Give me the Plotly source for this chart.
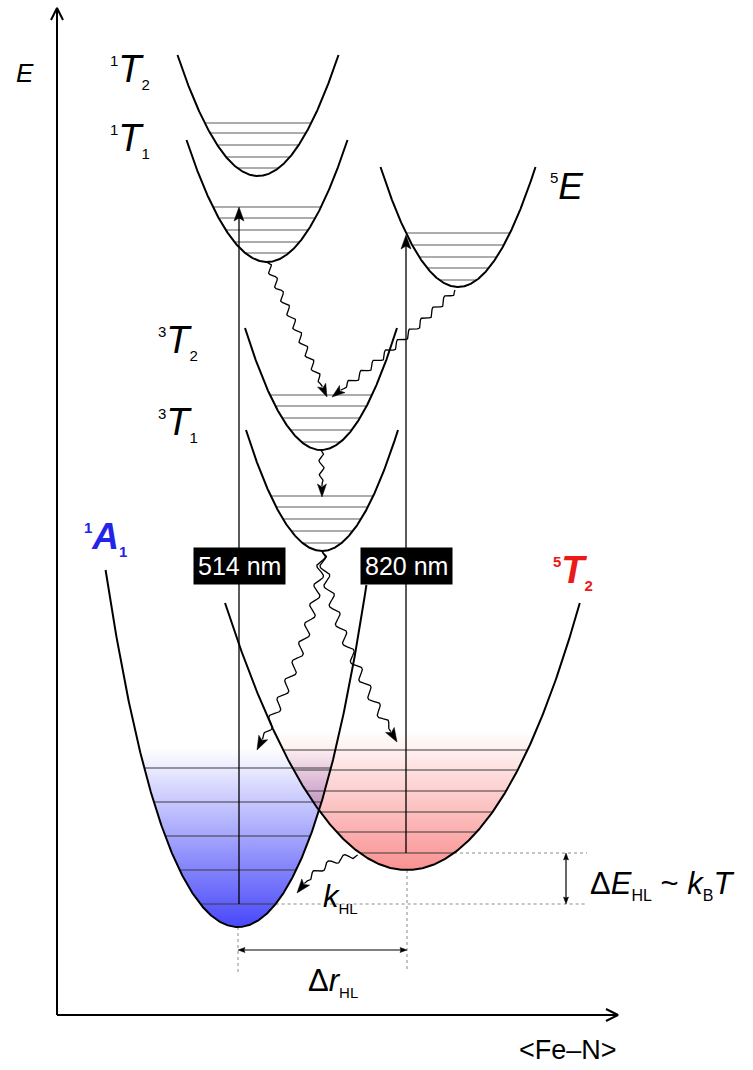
import numpy as np
import plotly.graph_objects as go

W, H = 753, 1070

# ---------------- data: potential wells (x = Fe-N distance units, E = energy units) -------------
state_names = ["1T2", "1T1", "5E", "3T2", "3T1", "1A1", "5T2"]
state_r0 = [258, 267, 458, 321, 322, 238, 407]
state_E0 = [894, 808, 783, 620, 519, 143, 200]
state_k = [0.01867, 0.01883, 0.01998, 0.02112, 0.02095, 0.0158, 0.0076]
state_q_left = [0, 0, 0, 0, 0, 2.6e-7, 1.4e-8]
state_q_right = [0, 0, 0, 0, 0, 3.0e-7, 4.5e-8]
state_top_left = [1015, 930, 903, 742, 640, 500, 467]
state_top_right = [1015, 930, 903, 742, 640, 485, 467]
state_levels = [
    [947, 937, 925, 913, 902],
    [863, 852, 840, 828, 817],
    [837, 825, 813, 802, 790],
    [675, 664, 652, 640, 628],
    [574, 563, 551, 539, 527],
    [302, 268, 234, 200, 166],
    [320, 300, 279, 258, 238, 217],
]
fill_top = {"1A1": 322, "5T2": 340}
excitation_nm = ["514 nm", "820 nm"]

S = {n: i for i, n in enumerate(state_names)}

fig = go.Figure()


def add_line(xs, ys, color="black", width=2, dash=None):
    fig.add_trace(go.Scatter(x=list(xs), y=list(ys), mode="lines",
                             line=dict(color=color, width=width, dash=dash),
                             hoverinfo="skip", showlegend=False))


def add_poly(xs, ys, color):
    fig.add_trace(go.Scatter(x=list(xs), y=list(ys), mode="lines", fill="toself",
                             fillcolor=color, line=dict(color=color, width=0.5),
                             hoverinfo="skip", showlegend=False))


def well_E(i, x):
    u = np.asarray(x, float) - state_r0[i]
    q = np.where(u < 0, state_q_left[i], state_q_right[i])
    return state_E0[i] + state_k[i] * u ** 2 + q * u ** 4


def half_width(i, E, side):
    dE = max(E - state_E0[i], 0)
    k = state_k[i]
    q = state_q_left[i] if side < 0 else state_q_right[i]
    if q == 0:
        return np.sqrt(dE / k)
    return np.sqrt((-k + np.sqrt(k * k + 4 * q * dE)) / (2 * q))


def head_pts(tip, d, L=13, Wd=4.5, notch=3):
    tip = np.asarray(tip, float)
    d = np.asarray(d, float)
    d = d / np.hypot(*d)
    nrm = np.array([-d[1], d[0]])
    base = tip - d * L
    pts = [tip, base + nrm * Wd, tip - d * (L - notch), base - nrm * Wd, tip]
    return [p[0] for p in pts], [p[1] for p in pts]


def arrow_head(tip, d, L=13, Wd=4.5, notch=3):
    xs, ys = head_pts(tip, d, L, Wd, notch)
    add_poly(xs, ys, "black")


# ---------------- gradient fills of the two ground wells ----------------
i1, i5 = S["1A1"], S["5T2"]


def blue_col(E):
    t = float(np.clip((E - state_E0[i1]) / (fill_top["1A1"] - state_E0[i1]), 0, 1))
    return np.array([72 + 183 * t, 72 + 183 * t, 250 + 5 * t])


def red_col(E):
    t = float(np.clip((E - state_E0[i5]) / (fill_top["5T2"] - state_E0[i5]), 0, 1))
    return np.array([250 + 5 * t, 145 + 110 * t, 145 + 110 * t])


def rgb(c):
    return "rgb(%d,%d,%d)" % tuple(np.clip(np.round(c), 0, 255))


def well_region(i, Et):
    xl = state_r0[i] - half_width(i, min(Et, state_top_left[i]), -1)
    xr = state_r0[i] + half_width(i, min(Et, state_top_right[i]), 1)
    xx = np.linspace(xl, xr, 300)
    yy = np.minimum(well_E(i, xx), Et)
    return list(xx) + [xx[0]], list(yy) + [yy[0]]


for i, fn, name in [(i1, blue_col, "1A1"), (i5, red_col, "5T2")]:
    Et = fill_top[name]
    xs, ys = well_region(i, Et)
    Es = np.linspace(state_E0[i], Et, 11)
    cs = [[j / 10, rgb(fn(E))] for j, E in enumerate(Es)]
    fig.add_trace(go.Scatter(x=xs, y=ys, mode="lines", fill="toself",
                             line=dict(width=0, color="rgba(0,0,0,0)"),
                             fillgradient=dict(type="vertical", colorscale=cs,
                                               start=state_E0[i], stop=Et),
                             hoverinfo="skip", showlegend=False))

# overlap region (colours multiply -> violet)
Eo = fill_top["1A1"]
xx = np.linspace(150, 400, 1200)
low = np.maximum(well_E(i1, xx), well_E(i5, xx))
m = low <= Eo
xo, lo = xx[m], low[m]
Emin_o = lo.min()
Es = np.linspace(Emin_o, Eo, 11)
cs = [[j / 10, rgb(blue_col(E) * red_col(E) / 255)] for j, E in enumerate(Es)]
fig.add_trace(go.Scatter(x=list(xo) + [xo[0]], y=list(lo) + [lo[0]], mode="lines", fill="toself",
                         line=dict(width=0, color="rgba(0,0,0,0)"),
                         fillgradient=dict(type="vertical", colorscale=cs, start=Emin_o, stop=Eo),
                         hoverinfo="skip", showlegend=False))

# ---------------- vibrational levels ----------------
for i, name in enumerate(state_names):
    col = "#3a3a3a" if name in ("1A1", "5T2") else "#5a5a5a"
    xs, ys = [], []
    for L in state_levels[i]:
        xs += [state_r0[i] - half_width(i, L, -1), state_r0[i] + half_width(i, L, 1), None]
        ys += [L, L, None]
    add_line(xs, ys, color=col, width=1.1)

# ---------------- dotted guide lines ----------------
low1 = state_levels[i1][-1]
low5 = state_levels[i5][-1]
add_line([state_r0[i5] + half_width(i5, low5, 1), 587], [low5, low5], color="#8a8a8a", width=1, dash="dot")
add_line([state_r0[i1] + half_width(i1, low1, 1), 587], [low1, low1], color="#8a8a8a", width=1, dash="dot")
add_line([state_r0[i1], state_r0[i1]], [state_E0[i1], 98], color="#8a8a8a", width=1, dash="dot")
add_line([state_r0[i5], state_r0[i5]], [state_E0[i5], 98], color="#8a8a8a", width=1, dash="dot")

# double arrows
add_line([566, 566], [low5 - 5, low1 + 5], width=1.2)
arrow_head((566, low5), (0, 1), L=7, Wd=2.5, notch=1)
arrow_head((566, low1), (0, -1), L=7, Wd=2.5, notch=1)
ya = 120
add_line([state_r0[i1] + 5, state_r0[i5] - 5], [ya, ya], width=1.2)
arrow_head((state_r0[i1], ya), (-1, 0), L=7, Wd=2.5, notch=1)
arrow_head((state_r0[i5], ya), (1, 0), L=7, Wd=2.5, notch=1)

# ---------------- well curves ----------------
for i, name in enumerate(state_names):
    xl = state_r0[i] - half_width(i, state_top_left[i], -1)
    xr = state_r0[i] + half_width(i, state_top_right[i], 1)
    xx = np.linspace(xl, xr, 400)
    add_line(xx, well_E(i, xx), width=2)

# ---------------- vertical excitation arrows ----------------
iT1, i5E = S["1T1"], S["5E"]
x514 = state_r0[i1] + 1
tip514 = state_levels[iT1][0]
add_line([x514, x514], [low1, tip514 - 10], width=1.3)
arrow_head((x514, tip514), (0, 1), L=14, Wd=5, notch=3)
x820 = state_r0[i5] - 1
tip820 = state_levels[i5E][0] - 2
add_line([x820, x820], [low5, tip820 - 10], width=1.3)
arrow_head((x820, tip820), (0, 1), L=14, Wd=5, notch=3)


# ---------------- wavy (non-radiative) arrows ----------------
def wavy(p0, c, tip, amp, wl, L=13, Wd=4.5):
    p0, c, tip = (np.array(p, float) for p in (p0, c, tip))
    t = np.linspace(0, 1, 600)[:, None]
    pts = (1 - t) ** 2 * p0 + 2 * (1 - t) * t * c + t ** 2 * tip
    seg = np.hypot(*np.diff(pts, axis=0).T)
    s = np.concatenate([[0], np.cumsum(seg)])
    total = s[-1]
    mk = s <= total - L + 2
    tang = np.gradient(pts, axis=0)
    tang /= np.hypot(tang[:, 0], tang[:, 1])[:, None]
    nrm = np.stack([-tang[:, 1], tang[:, 0]], axis=1)
    env = np.clip((total - L - s) / (wl * 0.5), 0, 1) * np.clip(s / (wl * 0.25), 0, 1)
    off = amp * np.sin(2 * np.pi * s / wl) * env
    w = pts + nrm * off[:, None]
    add_line(w[mk, 0], w[mk, 1], width=1.3)
    k = np.searchsorted(s, total - L)
    arrow_head(tip, tip - pts[k], L=L, Wd=Wd)


iT2, i3T1 = S["3T2"], S["3T1"]
top3T2 = state_levels[iT2][0]
top3T1 = state_levels[i3T1][0]
wavy((state_r0[iT1], state_E0[iT1]), (292, 750), (state_r0[iT2] + 6, top3T2 - 2), 3, 15)
wavy((state_r0[i5E] - 3, state_E0[i5E] - 3), (400, 725), (state_r0[iT2] + 11, top3T2 - 2), 3, 16)
wavy((state_r0[iT2], state_E0[iT2]), (322, 598), (state_r0[i3T1], top3T1 - 1), 2.5, 14)
wavy((state_r0[i3T1], state_E0[i3T1]), (318, 440), (257, 320), 4, 20, L=14, Wd=5)
wavy((state_r0[i3T1], state_E0[i3T1]), (330, 440), (397, 328), 4, 20, L=14, Wd=5)
Ek = 215
wavy((state_r0[i5] - half_width(i5, Ek, -1) - 5, Ek), (320, 210), (297, 177), 3, 17, L=14, Wd=5)

# ---------------- axes ----------------
ax0x, ax0y = 57, 55
add_line([ax0x, ax0x], [ax0y, 1062], width=2)
add_line([ax0x - 6, ax0x, ax0x + 6], [1050, 1062, 1050], width=2)
add_line([ax0x, 618], [ax0y, ax0y], width=2)
add_line([606, 618, 606], [ax0y + 6, ax0y, ax0y - 6], width=2)

# ---------------- text ----------------
FONT = "Arial, Liberation Sans, sans-serif"
ann = []


def txt(x, y, text, size, color="black", xanchor="left", yanchor="middle", **kw):
    ann.append(dict(x=x, y=y, xref="x", yref="y", text=text, showarrow=False,
                    xanchor=xanchor, yanchor=yanchor,
                    font=dict(family=FONT, size=size, color=color), **kw))


def term(sup, letter, sub, bold=False, small=15):
    b0, b1 = ("<b>", "</b>") if bold else ("", "")
    return (f"{b0}<sup><span style='font-size:{small}px'>{sup}</span></sup>"
            f"<i>{letter}</i><sub><span style='font-size:{small}px'>{sub}</span></sub>{b1}")


txt(25, 997, "<i>E</i>", 26, xanchor="center")
txt(568, 20, "&lt;Fe–N&gt;", 27, xanchor="center")
txt(108, 1000, term("1", "T", "2"), 38)
txt(108, 931, term("1", "T", "1"), 38)
txt(156, 729, term("3", "T", "2"), 38)
txt(156, 647, term("3", "T", "1"), 38)
txt(548, 884, term("5", "E", ""), 37)
txt(82, 532, term("1", "A", "1", bold=True), 37, color="rgb(35,35,235)")
txt(551, 499, term("5", "T", "2", bold=True), 38, color="rgb(235,25,25)")
txt(321, 172, "<i>k</i><sub><span style='font-size:15px'>HL</span></sub>", 31)
txt(588, 185, "Δ<i>E</i><sub><span style='font-size:16px'>HL</span></sub> ~ "
    "<i>k</i><sub><span style='font-size:16px'>B</span></sub><i>T</i>", 31)
txt(306, 88, "Δ<i>r</i><sub><span style='font-size:15px'>HL</span></sub>", 31)

# wavelength boxes
for xc, lab in zip([x514, x820], excitation_nm):
    ann.append(dict(x=xc, y=504.5, xref="x", yref="y", text=lab, showarrow=False,
                    xanchor="center", yanchor="middle", bgcolor="black", borderpad=4,
                    font=dict(family=FONT, size=25, color="white")))

fig.update_layout(
    width=W, height=H, margin=dict(l=0, r=0, t=0, b=0),
    paper_bgcolor="white", plot_bgcolor="white",
    xaxis=dict(range=[0, W], visible=False, fixedrange=True),
    yaxis=dict(range=[0, H], visible=False, fixedrange=True),
    annotations=ann, showlegend=False,
)

fig.write_html("out.html")
